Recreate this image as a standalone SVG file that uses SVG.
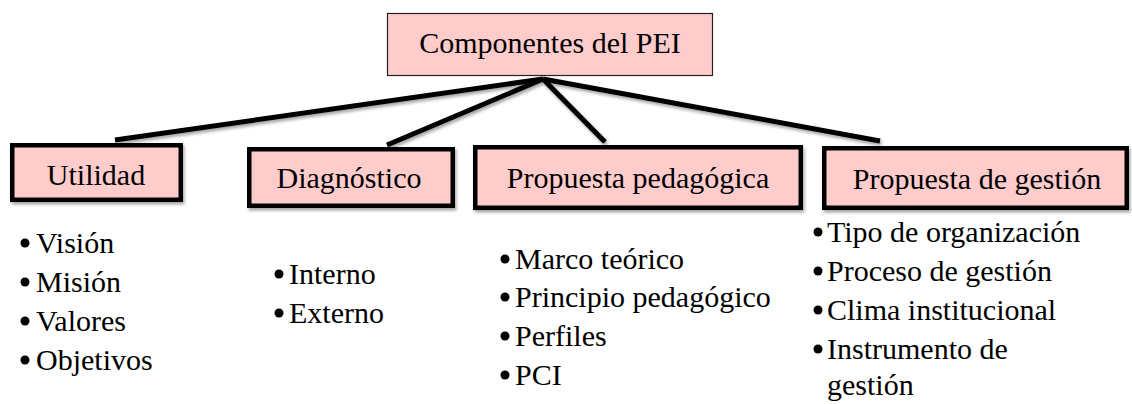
<svg xmlns="http://www.w3.org/2000/svg" width="1132" height="404" viewBox="0 0 1132 404">
<defs>
<filter id="sh" x="-10%" y="-10%" width="130%" height="140%">
<feDropShadow dx="1.5" dy="2.5" stdDeviation="1.5" flood-color="#000" flood-opacity="0.35"/>
</filter>
<style>
.dot{fill:#000}
.top{fill:#ffcccc;stroke:#222;stroke-width:1.2}
.box{fill:#ffcccc;stroke:#000;stroke-width:4.5;filter:url(#sh)}
.con{stroke:#000;stroke-width:5;fill:none}
</style>
</defs>
<rect width="1132" height="404" fill="#fff"/>
<g id="connectors" filter="url(#sh)">
<line class="con" x1="543" y1="79" x2="115" y2="140"/>
<line class="con" x1="543" y1="79" x2="387" y2="145"/>
<line class="con" x1="543" y1="79" x2="605" y2="142"/>
<line class="con" x1="543" y1="79" x2="880" y2="141"/>
</g>
<g id="root">
<rect class="top" x="387.5" y="13.5" width="325" height="62"/>
<text x="550" y="53" font-size="30" font-family="Liberation Serif" text-anchor="middle">Componentes del PEI</text>
</g>
<g id="utilidad">
<rect class="box" x="12.25" y="145.25" width="168.5" height="54.5"/>
<text x="96" y="185" font-size="30" font-family="Liberation Serif" text-anchor="middle">Utilidad</text>
<circle class="dot" cx="25" cy="243" r="4.5"/><text x="36" y="253" font-size="30" font-family="Liberation Serif">Visión</text>
<circle class="dot" cx="25" cy="282" r="4.5"/><text x="36" y="292" font-size="30" font-family="Liberation Serif">Misión</text>
<circle class="dot" cx="25" cy="321" r="4.5"/><text x="36" y="331" font-size="30" font-family="Liberation Serif">Valores</text>
<circle class="dot" cx="25" cy="360" r="4.5"/><text x="36" y="370" font-size="30" font-family="Liberation Serif">Objetivos</text>
</g>
<g id="diagnostico">
<rect class="box" x="249.25" y="149.25" width="203.5" height="56.5"/>
<text x="349" y="188" font-size="30" font-family="Liberation Serif" text-anchor="middle">Diagnóstico</text>
<circle class="dot" cx="279" cy="274" r="4.5"/><text x="289" y="284" font-size="30" font-family="Liberation Serif">Interno</text>
<circle class="dot" cx="279" cy="313" r="4.5"/><text x="289" y="323" font-size="30" font-family="Liberation Serif">Externo</text>
</g>
<g id="pedagogica">
<rect class="box" x="475.25" y="147.25" width="325.5" height="60.5"/>
<text x="638" y="188" font-size="30" font-family="Liberation Serif" text-anchor="middle">Propuesta pedagógica</text>
<circle class="dot" cx="505" cy="259" r="4.5"/><text x="515" y="269" font-size="30" font-family="Liberation Serif">Marco teórico</text>
<circle class="dot" cx="505" cy="297" r="4.5"/><text x="515" y="307" font-size="30" font-family="Liberation Serif">Principio pedagógico</text>
<circle class="dot" cx="505" cy="336" r="4.5"/><text x="515" y="346" font-size="30" font-family="Liberation Serif">Perfiles</text>
<circle class="dot" cx="505" cy="375" r="4.5"/><text x="515" y="385" font-size="30" font-family="Liberation Serif">PCI</text>
</g>
<g id="gestion">
<rect class="box" x="824.25" y="148.25" width="302.5" height="59.5"/>
<text x="977" y="189" font-size="30" font-family="Liberation Serif" text-anchor="middle">Propuesta de gestión</text>
<circle class="dot" cx="818" cy="232" r="4.5"/><text x="827" y="242" font-size="30" font-family="Liberation Serif">Tipo de organización</text>
<circle class="dot" cx="818" cy="271" r="4.5"/><text x="827" y="281" font-size="30" font-family="Liberation Serif">Proceso de gestión</text>
<circle class="dot" cx="818" cy="310" r="4.5"/><text x="827" y="320" font-size="30" font-family="Liberation Serif">Clima institucional</text>
<circle class="dot" cx="818" cy="349" r="4.5"/><text x="827" y="359" font-size="30" font-family="Liberation Serif">Instrumento de</text>
<text x="827" y="395" font-size="30" font-family="Liberation Serif">gestión</text>
</g>
</svg>
